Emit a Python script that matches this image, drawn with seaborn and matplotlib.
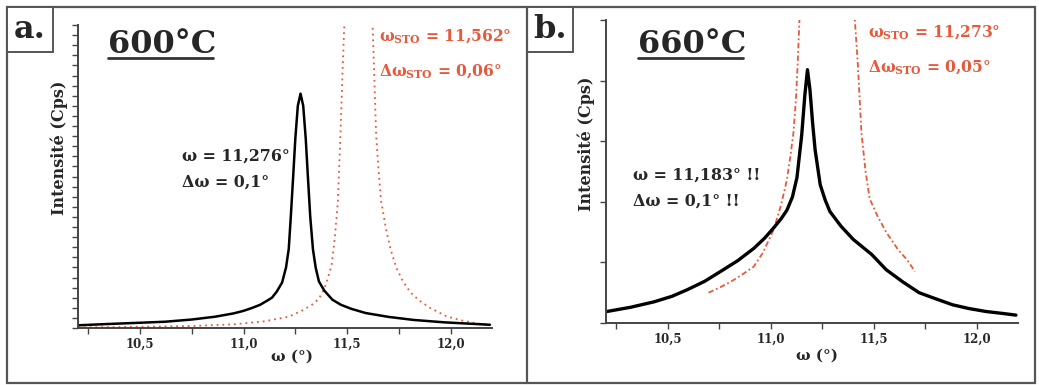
import matplotlib
matplotlib.use("Agg")
import matplotlib.pyplot as plt
import matplotlib.ticker as mticker
from matplotlib.patches import Rectangle
from matplotlib.lines import Line2D
import seaborn as sns
import pandas as pd

# ---- data (omega in deg, intensity in arbitrary units) ----
# panel a, 600 C
omega_a_film = [10.19, 10.35, 10.5, 10.62, 10.75, 10.863, 10.95, 11.0, 11.04, 11.08,
                11.11, 11.137, 11.16, 11.186, 11.205, 11.218, 11.228, 11.24, 11.25,
                11.262, 11.275, 11.288, 11.3, 11.31, 11.322, 11.335, 11.348, 11.364,
                11.39, 11.429, 11.47, 11.52, 11.59, 11.7, 11.82, 11.97, 12.19]
int_a_film = [0.13, 0.2, 0.26, 0.31, 0.42, 0.56, 0.72, 0.85, 0.99, 1.15,
              1.33, 1.5, 1.8, 2.25, 3.0, 3.9, 5.5, 7.6, 9.4,
              11.0, 11.6, 11.0, 9.4, 7.6, 5.5, 3.9, 3.0, 2.3,
              1.85, 1.4, 1.15, 0.95, 0.74, 0.55, 0.4, 0.28, 0.16]
omega_a_sto = [10.2, 10.5, 10.75, 10.95, 11.1, 11.218, 11.29, 11.33, 11.364, 11.39,
               11.405, 11.425, 11.44, 11.455, 11.468, 11.478, 11.49, 11.555,
               11.62, 11.63, 11.64, 11.652, 11.664, 11.688, 11.71, 11.737, 11.77,
               11.807, 11.85, 11.9, 11.98, 12.05, 12.12, 12.19]
int_a_sto = [0.03, 0.06, 0.1, 0.18, 0.33, 0.56, 0.9, 1.15, 1.45, 1.95,
             2.4, 3.1, 4.4, 6.2, 9.6, 12.7, 16.0, 30.0,
             16.0, 12.9, 9.6, 7.8, 6.3, 4.9, 3.9, 3.0, 2.3,
             1.75, 1.35, 1.0, 0.58, 0.38, 0.24, 0.15]

# panel b, 660 C
omega_b_film = [10.205, 10.32, 10.434, 10.52, 10.595, 10.68, 10.756, 10.84, 10.917,
                10.97, 11.014, 11.05, 11.078, 11.105, 11.127, 11.15, 11.165, 11.178,
                11.19, 11.203, 11.215, 11.24, 11.265, 11.287, 11.34, 11.4, 11.49,
                11.56, 11.64, 11.72, 11.8, 11.883, 11.96, 12.044, 12.12, 12.19]
int_b_film = [0.19, 0.26, 0.35, 0.44, 0.55, 0.69, 0.85, 1.03, 1.23,
              1.4, 1.57, 1.72, 1.86, 2.08, 2.4, 3.1, 3.75, 4.18,
              3.85, 3.3, 2.86, 2.28, 2.02, 1.84, 1.6, 1.38, 1.13,
              0.88, 0.68, 0.5, 0.4, 0.3, 0.24, 0.19, 0.16, 0.13]
omega_b_sto = [10.698, 10.76, 10.82, 10.87, 10.917, 10.96, 11.014, 11.05, 11.078,
               11.095, 11.11, 11.122, 11.13, 11.139, 11.15, 11.27, 11.39, 11.408,
               11.423, 11.44, 11.46, 11.48, 11.52, 11.56, 11.62, 11.66, 11.70]
int_b_sto = [0.5, 0.6, 0.71, 0.82, 0.93, 1.15, 1.54, 1.95, 2.36,
             2.75, 3.14, 3.7, 4.24, 5.0, 6.5, 20.0, 6.5, 5.0,
             4.24, 3.14, 2.5, 2.05, 1.75, 1.5, 1.2, 1.05, 0.85]

xticks = [10.5, 11.0, 11.5, 12.0]
xticklabels = ["10,5", "11,0", "11,5", "12,0"]
temps = ["600°C", "660°C"]
panel_tags = ["a.", "b."]
film_notes = ["ω = 11,276°\nΔω = 0,1°", "ω = 11,183° !!\nΔω = 0,1° !!"]
sto_pos = ["11,562°", "11,273°"]
sto_width = ["0,06°", "0,05°"]

RED = "#e8593c"
W, H = 1039, 385

sns.set_style("ticks")
plt.rcParams['font.family'] = ['DejaVu Serif']
plt.rcParams['font.weight'] = 'bold'
plt.rcParams['mathtext.fontset'] = 'dejavuserif'

fig = plt.figure(figsize=(W / 100, H / 100), dpi=100)

def fx(px):
    return px / W

def fy(py):
    return 1 - py / H

# axes boxes (pixels): left, right, top, bottom
boxes = [(78, 492, 25, 328), (606, 1018, 20, 323)]
axes = []
for (l, r, t, b) in boxes:
    axes.append(fig.add_axes([fx(l), fy(b), fx(r) - fx(l), fy(t) - fy(b)]))

film = [pd.DataFrame({'omega': omega_a_film, 'I': int_a_film}),
        pd.DataFrame({'omega': omega_b_film, 'I': int_b_film})]
sto = [pd.DataFrame({'omega': omega_a_sto, 'I': int_a_sto}),
       pd.DataFrame({'omega': omega_b_sto, 'I': int_b_sto})]

ylims = [15, 5]
sto_ls = [(0, (1, 2.2)), (0, (3, 1.5, 1, 1.5))]
film_lw = [1.8, 2.4]

for i, ax in enumerate(axes):
    sns.lineplot(data=sto[i], x='omega', y='I', color=RED, lw=1.3,
                 linestyle=sto_ls[i], ax=ax, legend=False)
    sns.lineplot(data=film[i], x='omega', y='I', color='black', lw=film_lw[i],
                 ax=ax, legend=False)
    ax.set(xlim=(10.2, 12.2), ylim=(0, ylims[i]))
    ax.set_xticks(xticks)
    ax.set_xticklabels(xticklabels)
    ax.xaxis.set_minor_locator(mticker.MultipleLocator(0.25))
    ax.yaxis.set_major_locator(mticker.MultipleLocator(1))
    if i == 0:
        ax.yaxis.set_minor_locator(mticker.MultipleLocator(0.5))
    ax.set_yticklabels([])
    for side in ['top', 'right']:
        ax.spines[side].set_visible(False)
    for side in ['left', 'bottom']:
        ax.spines[side].set_color('#444444')
        ax.spines[side].set_linewidth(1.4)
    ax.tick_params(axis='both', which='both', direction='out', length=4,
                   width=1.0, color='#444444')
    ax.tick_params(axis='x', labelsize=8.5, pad=3)
    for lab in ax.get_xticklabels():
        lab.set_fontweight('bold')
    ax.set_xlabel('ω (°)', fontsize=11, fontweight='bold')
    ax.set_ylabel('Intensité (Cps)', fontsize=11.5, fontweight='bold')

axes[0].xaxis.set_label_coords(0.517, -0.07)
axes[1].xaxis.set_label_coords(0.512, -0.085)
axes[0].yaxis.set_label_coords(-0.024, 0.594)
axes[1].yaxis.set_label_coords(-0.027, 0.592)

# frames around the panels
fig.add_artist(Rectangle((fx(7), fy(383)), fx(1035) - fx(7), fy(7) - fy(383),
                         transform=fig.transFigure, fill=False, ec='#555555', lw=1.6))
fig.add_artist(Line2D([fx(527), fx(527)], [fy(7), fy(383)], transform=fig.transFigure,
                      color='#555555', lw=1.6))

# panel tags, temperature titles, annotations
tag_x = [7, 527]
temp_x = [108, 638]
temp_w = [105, 105]
film_xy = [(182, 169), (633, 188)]
sto_xy = [(379, 37), (868, 33)]
for i in range(2):
    fig.add_artist(Rectangle((fx(tag_x[i]), fy(52)), fx(46), fy(7) - fy(52),
                             transform=fig.transFigure, fill=True, fc='white',
                             ec='#555555', lw=1.4))
    fig.text(fx(tag_x[i] + 23), fy(29), panel_tags[i], ha='center', va='center',
             fontsize=23, fontweight='bold')
    fig.text(fx(temp_x[i]), fy(53), temps[i], ha='left', va='baseline',
             fontsize=23, fontweight='bold')
    fig.add_artist(Line2D([fx(temp_x[i]), fx(temp_x[i] + temp_w[i])], [fy(58), fy(58)],
                          transform=fig.transFigure, color='#333333', lw=2))
    fig.text(fx(film_xy[i][0]), fy(film_xy[i][1]), film_notes[i], ha='left',
             va='center', fontsize=11.4, fontweight='bold', linespacing=1.75)
    fig.text(fx(sto_xy[i][0]), fy(sto_xy[i][1]),
             r'$\mathbf{ω_{STO}}$ = ' + sto_pos[i], ha='left', va='center',
             fontsize=11.2, fontweight='bold', color=RED)
    fig.text(fx(sto_xy[i][0]), fy(sto_xy[i][1] + 35),
             r'$\mathbf{Δω_{STO}}$ = ' + sto_width[i], ha='left', va='center',
             fontsize=11.2, fontweight='bold', color=RED)

fig.savefig('out.png', dpi=100, facecolor='white')
